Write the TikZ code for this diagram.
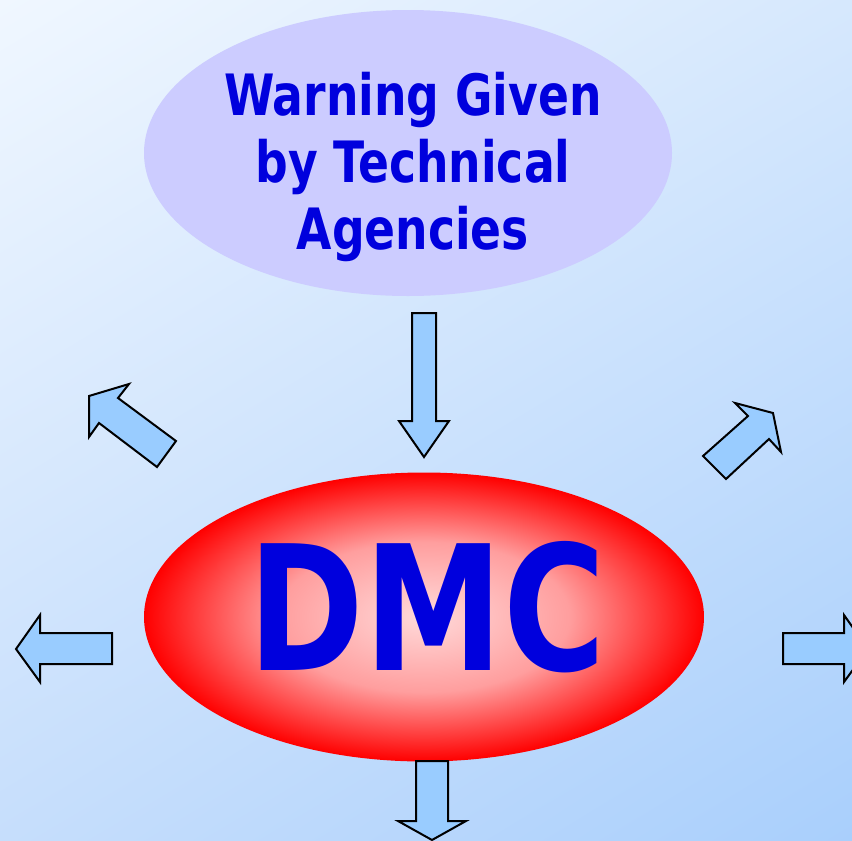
\documentclass[tikz,border=0pt]{standalone}
\usepackage{fontspec}
\setmainfont{DejaVu Sans}
\newfontfamily\condbold{DejaVu Sans Condensed Bold}[FakeStretch=0.89]
\usetikzlibrary{shapes.geometric,shadings}
\definecolor{bgA}{HTML}{F0F7FF}
\definecolor{bgTR}{HTML}{D6E8FD}
\definecolor{bgBL}{HTML}{C6DEFC}
\definecolor{bgC}{HTML}{A9CFFC}
\definecolor{lav}{HTML}{CCCCFF}
\definecolor{txtblue}{HTML}{0000DD}
\definecolor{arrowfill}{HTML}{99CCFF}
\definecolor{pinkc}{HTML}{FFDADA}
\definecolor{pinkm}{HTML}{FF9E9E}
\pgfdeclareradialshading{dmcshade}{\pgfpoint{0bp}{0bp}}{color(0bp)=(pinkc); color(13bp)=(pinkm); color(25bp)=(red); color(50bp)=(red)}
\tikzset{
  blockarrow/.style={draw=black, line width=2pt, fill=arrowfill, line join=miter},
  titletext/.style={text=txtblue, align=center, font=\condbold\fontsize{57}{67}\selectfont, inner sep=0pt},
}
\begin{document}
\begin{tikzpicture}[x=1pt,y=-1pt]
\useasboundingbox (0,0) rectangle (852,841);
\shade[upper left=bgA, upper right=bgTR, lower left=bgBL, lower right=bgC] (0,0) rectangle (852,841);
% top ellipse
\node[ellipse, fill=lav, minimum width=528pt, minimum height=286pt, inner sep=0pt] (warn) at (408,153) {};
\node[titletext] (warntext) at (413,167) {Warning Given\\by Technical\\Agencies};
% DMC ellipse
\node[ellipse, shading=dmcshade, minimum width=560pt, minimum height=289pt, inner sep=0pt] (dmc) at (424,617) {};
\node[text=txtblue, font=\condbold\fontsize{174}{174}\selectfont, inner sep=0pt] (dmctext) at (427,607) {DMC};
% arrows
\draw[blockarrow] (412,313) -- (436,313) -- (436,421) -- (449,421) -- (424,457) -- (399,421) -- (412,421) -- cycle;
\draw[blockarrow] (416,761) -- (448,761) -- (448,821) -- (466,821) -- (432,840) -- (398,821) -- (416,821) -- cycle;
\draw[blockarrow] (112,633) -- (112,664) -- (40,664) -- (40,682) -- (16,649) -- (40,615) -- (40,633) -- cycle;
\draw[blockarrow] (783,633) -- (783,664) -- (844,664) -- (844,682) -- (868,649) -- (844,615) -- (844,633) -- cycle;
\draw[blockarrow] (89,396) -- (129,384) -- (118,398) -- (176,441) -- (157,467) -- (99,423) -- (89,437) -- cycle;
\draw[blockarrow] (735,403) -- (773,413) -- (781,452) -- (769,439) -- (726,479) -- (703,456) -- (748,416) -- cycle;
\end{tikzpicture}
\end{document}
